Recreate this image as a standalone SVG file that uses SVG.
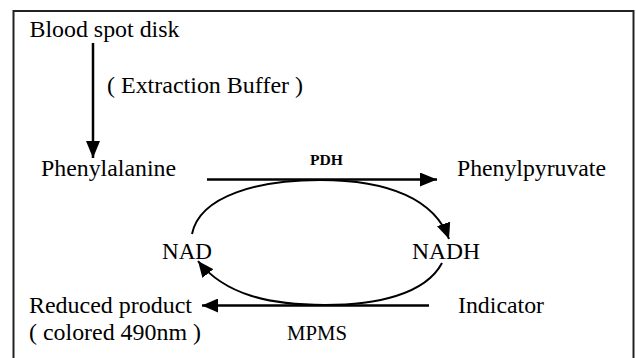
<svg xmlns="http://www.w3.org/2000/svg" width="636" height="358" viewBox="0 0 636 358">
<style>
text{font-family:'Liberation Serif','Times New Roman',serif;font-size:23px;fill:#000}
.s{font-size:20px}
.b{font-size:15px;font-weight:bold}
.ln{stroke:#000;stroke-width:2.5;fill:none}
.cv{stroke:#000;stroke-width:2;fill:none}
</style>
<defs>
<marker id="ah" markerUnits="userSpaceOnUse" markerWidth="17" markerHeight="14" refX="17" refY="7" orient="auto">
<path d="M0,0 L17,7 L0,14 z" fill="#000"/>
</marker>
<marker id="ah2" markerUnits="userSpaceOnUse" markerWidth="16" markerHeight="14" refX="16" refY="7" orient="auto">
<path d="M0,0 L16,7 L0,14 z" fill="#000"/>
</marker>
</defs>
<rect x="13.5" y="11" width="620" height="370" fill="none" stroke="#222" stroke-width="2"/>
<g id="connectors">
<line class="ln" x1="93" y1="43" x2="93" y2="158" marker-end="url(#ah)"/>
<line class="ln" x1="207" y1="179.5" x2="437" y2="179.5" marker-end="url(#ah)"/>
<line class="ln" x1="429" y1="305.5" x2="202" y2="305.5" marker-end="url(#ah2)"/>
<path class="cv" d="M192,234 C200,195 260,180 320,180 C390,180 435,200 449,239" marker-end="url(#ah2)"/>
<path class="cv" d="M442,263 C425,295 375,305 325,305 C270,305 225,295 198,261" marker-end="url(#ah2)"/>
</g>
<g id="blood"><text x="29.5" y="37" textLength="150" lengthAdjust="spacingAndGlyphs">Blood spot disk</text></g>
<g id="buffer"><text x="107" y="93" textLength="196" lengthAdjust="spacingAndGlyphs">( Extraction Buffer )</text></g>
<g id="phe"><text x="41" y="176" textLength="135" lengthAdjust="spacingAndGlyphs">Phenylalanine</text></g>
<g id="pdh"><text class="b" x="310" y="165" textLength="33" lengthAdjust="spacingAndGlyphs">PDH</text></g>
<g id="ppy"><text x="457" y="176" textLength="149" lengthAdjust="spacingAndGlyphs">Phenylpyruvate</text></g>
<g id="nad"><text x="162" y="259" textLength="50" lengthAdjust="spacingAndGlyphs">NAD</text></g>
<g id="nadh"><text x="412" y="259" textLength="68" lengthAdjust="spacingAndGlyphs">NADH</text></g>
<g id="reduced"><text x="29" y="313" textLength="163" lengthAdjust="spacingAndGlyphs">Reduced product</text>
<text x="29" y="340" textLength="172" lengthAdjust="spacingAndGlyphs">( colored 490nm )</text></g>
<g id="mpms"><text class="s" x="287" y="340" textLength="60" lengthAdjust="spacingAndGlyphs">MPMS</text></g>
<g id="indicator"><text x="458" y="313" textLength="86" lengthAdjust="spacingAndGlyphs">Indicator</text></g>
</svg>
